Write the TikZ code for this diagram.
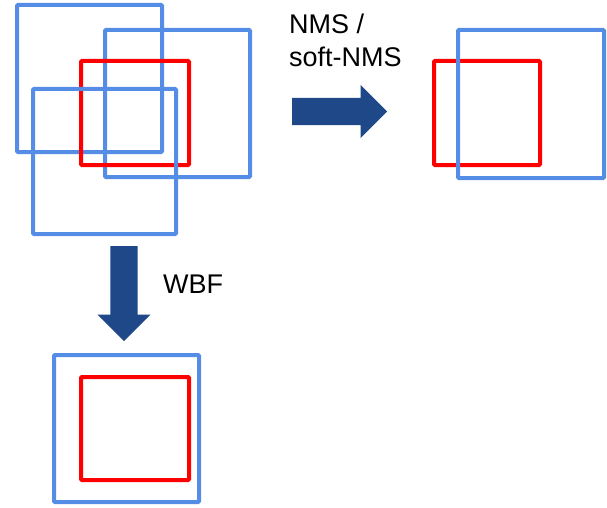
\documentclass[tikz,border=0pt]{standalone}
\usepackage{fontspec}
\setmainfont{Liberation Sans}
\usepackage{tikz}
\usetikzlibrary{positioning,%
  shapes.arrows
}
\definecolor{boxblue}{RGB}{85,140,230}
\definecolor{boxred}{RGB}{255,0,0}
\definecolor{arrowblue}{RGB}{31,72,136}
\tikzset{
  bbox/.style={draw, line width=4pt, rounded corners=1pt, inner sep=0pt, anchor=north west},
  gtbox/.style={bbox, draw=boxblue},
  predbox/.style={bbox, draw=boxred},
  fatarrow/.style={single arrow, fill=arrowblue, draw=none, inner sep=13.5pt, anchor=tail,
    minimum width=53pt, single arrow head extend=13pt, minimum height=95pt},
  lbl/.style={font=\fontsize{27}{33}\selectfont, inner sep=0pt, anchor=base west}
}

\begin{document}
\begin{tikzpicture}[x=1pt, y=-1pt]
            \useasboundingbox (0,0) rectangle (607,508);

            \node [gtbox, minimum width=145pt, minimum height=147pt] (inA) at (15,3) {};
            \node [gtbox, minimum width=145pt, minimum height=147pt] (inB) at (103,28) {};
            \node [predbox, minimum width=108pt, minimum height=104pt] (inRed) at (79,59) {};
            \node [gtbox, minimum width=143pt, minimum height=145pt] (inC) at (31,87) {};

            \node [fatarrow] (toNms) at (292,111.5) {};
            \node [lbl] (nmsLabel) at (289,34) {NMS /};
            \node [lbl] (softLabel) at (289,67) {soft-NMS};

            \node [predbox, minimum width=106pt, minimum height=104pt] (nmsRed) at (432,59) {};
            \node [gtbox, minimum width=146pt, minimum height=148pt] (nmsBox) at (456,28) {};

            \node [fatarrow, shape border rotate=270] (toWbf) at (124,246) {};
            \node [lbl] (wbfLabel) at (163,293) {WBF};

            \node [gtbox, minimum width=145pt, minimum height=147pt] (wbfBox) at (52,353) {};
            \node [predbox, minimum width=108pt, minimum height=103pt] (wbfRed) at (79,375) {};
        \end{tikzpicture}
\end{document}
